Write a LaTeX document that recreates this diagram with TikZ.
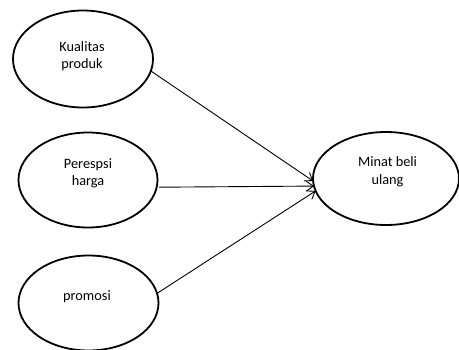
\documentclass[tikz,border=0pt]{standalone}
\usepackage{fontspec}
\setmainfont{Carlito}
\usetikzlibrary{shapes.geometric,arrows.meta}
\begin{document}
\begin{tikzpicture}[x=1pt,y=-1pt,
  oval/.style={ellipse,draw,line width=1.8pt,inner sep=0pt,outer sep=0pt},
  lbl/.style={align=center,inner sep=0pt,font=\fontsize{14.3}{17.4}\selectfont},
  conn/.style={line width=0.9pt,-{Straight Barb[length=7pt,width=10pt,line width=0.9pt]}}]
\useasboundingbox (0,0) rectangle (459,349);
\node[oval,minimum width=140pt,minimum height=97pt] (kp) at (83,59) {};
\node[oval,minimum width=139pt,minimum height=95pt] (ph) at (88,180) {};
\node[oval,minimum width=140pt,minimum height=95pt] (pr) at (88.5,303) {};
\node[oval,minimum width=146pt,minimum height=93pt] (mb) at (386,178.5) {};
\node[lbl] (kpt) at (82,56) {Kualitas\\produk};
\node[lbl] (pht) at (88,173.3) {Perespsi\\harga};
\node[lbl] (prt) at (87,297.2) {promosi};
\node[lbl] (mbt) at (387.5,171.9) {Minat beli\\ulang};
\draw[conn] (kp.-10) -- (mb.182.7);
\draw[conn,shorten <=2.5pt] (ph.-6.3) -- (mb.186.6);
\draw[conn] (pr.8.7) -- (mb.190.3);
\end{tikzpicture}
\end{document}
